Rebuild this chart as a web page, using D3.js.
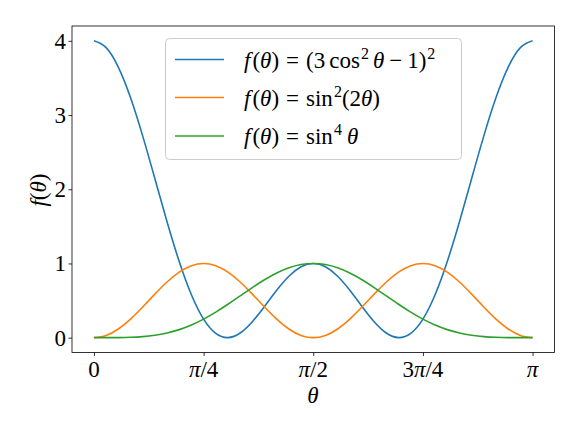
<!DOCTYPE html>
<html><head><meta charset="utf-8">
<script src="https://cdn.jsdelivr.net/npm/d3@7"></script>
<style>
body{margin:0;background:#fff;}
text{font-family:"Liberation Serif","Times New Roman",serif;fill:#000;}
</style></head>
<body><svg id="c" width="581" height="436"></svg>
<script>
// theta in degrees (0..180, step 5)
const thetaDeg = [0,5,10,15,20,25,30,35,40,45,50,55,60,65,70,75,80,85,90,95,100,105,110,115,120,125,130,135,140,145,150,155,160,165,170,175,180];
const f1Values = [4,3.9094,3.6463,3.2365,2.7194,2.1438,1.5625,1.0262,0.5783,0.25,0.0574,0.0002,0.0625,0.2155,0.4213,0.6385,0.8273,0.9549,1,0.9549,0.8273,0.6385,0.4213,0.2155,0.0625,0.0002,0.0574,0.25,0.5783,1.0262,1.5625,2.1438,2.7194,3.2365,3.6463,3.9094,4];
const f2Values = [0,0.0302,0.1170,0.25,0.4132,0.5868,0.75,0.8830,0.9698,1,0.9698,0.8830,0.75,0.5868,0.4132,0.25,0.1170,0.0302,0,0.0302,0.1170,0.25,0.4132,0.5868,0.75,0.8830,0.9698,1,0.9698,0.8830,0.75,0.5868,0.4132,0.25,0.1170,0.0302,0];
const f3Values = [0,0.0001,0.0009,0.0045,0.0137,0.0319,0.0625,0.1082,0.1707,0.25,0.3444,0.4503,0.5625,0.6747,0.7797,0.8705,0.9406,0.9849,1,0.9849,0.9406,0.8705,0.7797,0.6747,0.5625,0.4503,0.3444,0.25,0.1707,0.1082,0.0625,0.0319,0.0137,0.0045,0.0009,0.0001,0];
const xTickVals = [0,45,90,135,180];
const xTickLabels = [["0"],["π","/4"],["π","/2"],["3","π","/4"],["π"]];
const yTickVals = [0,1,2,3,4];
const colors = ["#1f77b4","#ff7f0e","#2ca02c"];

const svg = d3.select("#c");
const L=72, R=554.5, T=26, B=352.5;
const x = d3.scaleLinear().domain([-9,189]).range([L,R]);
const y = d3.scaleLinear().domain([-0.2,4.2]).range([B,T]);

const series=[f1Values,f2Values,f3Values];
const line = d3.line().x((d,i)=>x(thetaDeg[i])).y(d=>y(d)).curve(d3.curveNatural);
svg.append("clipPath").attr("id","cl").append("rect").attr("x",L).attr("y",T).attr("width",R-L).attr("height",B-T);
series.forEach((s,k)=>{
  svg.append("path").attr("d",line(s)).attr("fill","none").attr("stroke",colors[k]).attr("stroke-width",1.6).attr("clip-path","url(#cl)");
});

// frame
svg.append("rect").attr("x",L).attr("y",T).attr("width",R-L).attr("height",B-T).attr("fill","none").attr("stroke","#000").attr("stroke-width",0.8);

// axes ticks
const xa = d3.axisBottom(x).tickValues(xTickVals).tickSize(3.5).tickFormat("");
const gx = svg.append("g").attr("transform",`translate(0,${B})`).call(xa);
gx.select(".domain").remove();
gx.selectAll("line").attr("stroke","#000").attr("stroke-width",0.8);
xTickVals.forEach((v,i)=>{
  const t = svg.append("text").attr("x",x(v)).attr("y",377).attr("text-anchor","middle").attr("font-size",23);
  xTickLabels[i].forEach(p=>{
    t.append("tspan").text(p).attr("font-style", p==="π"?"italic":"normal");
  });
});
const ya = d3.axisLeft(y).tickValues(yTickVals).tickSize(3.5).tickFormat("");
const gy = svg.append("g").attr("transform",`translate(${L},0)`).call(ya);
gy.select(".domain").remove();
gy.selectAll("line").attr("stroke","#000").attr("stroke-width",0.8);
yTickVals.forEach(v=>{
  svg.append("text").attr("x",66).attr("y",y(v)+8).attr("text-anchor","end").attr("font-size",23).text(v);
});

// axis labels
svg.append("text").attr("x",313).attr("y",403).attr("text-anchor","middle").attr("font-size",23).attr("font-style","italic").text("θ");
const yl = svg.append("text").attr("transform","translate(46,190) rotate(-90)").attr("text-anchor","middle").attr("font-size",23);
yl.append("tspan").attr("font-style","italic").text("f");
yl.append("tspan").text("(");
yl.append("tspan").attr("font-style","italic").text("θ");
yl.append("tspan").text(")");

// legend
const lg = svg.append("g");
lg.append("rect").attr("x",165.5).attr("y",38.5).attr("width",296).attr("height",121).attr("rx",4).attr("fill","#fff").attr("fill-opacity",0.8).attr("stroke","#ccc").attr("stroke-width",1);
const rowsY=[59.5,97.5,136];
// legend label parts: [text, style, dx] style: i=italic, n=normal, s=superscript
const legendParts = [
  [["f","i",0],["(","n",2],["θ","i",0],[")","n",0],["=","n",7],["(3","n",7],["cos","n",4],["2","s",1],["θ","i",4],["−","n",5],["1)","n",5],["2","s",1]],
  [["f","i",0],["(","n",2],["θ","i",0],[")","n",0],["=","n",7],["sin","n",7],["2","s",1],["(2","n",0],["θ","i",0],[")","n",0]],
  [["f","i",0],["(","n",2],["θ","i",0],[")","n",0],["=","n",7],["sin","n",7],["4","s",1],["θ","i",5]]
];
rowsY.forEach((ry,k)=>{
  lg.append("line").attr("x1",175).attr("x2",224).attr("y1",ry).attr("y2",ry).attr("stroke",colors[k]).attr("stroke-width",1.6);
  const t = lg.append("text").attr("x",244).attr("y",ry+8).attr("font-size",23);
  let sup=false;
  legendParts[k].forEach(([s,st,dx])=>{
    const ts = t.append("tspan").text(s).attr("dx",dx);
    if(st==="i") ts.attr("font-style","italic");
    if(st==="s"){ ts.attr("font-size",16).attr("dy",-9); sup=true; }
    else if(sup){ ts.attr("dy",9); sup=false; }
  });
});
</script></body></html>
